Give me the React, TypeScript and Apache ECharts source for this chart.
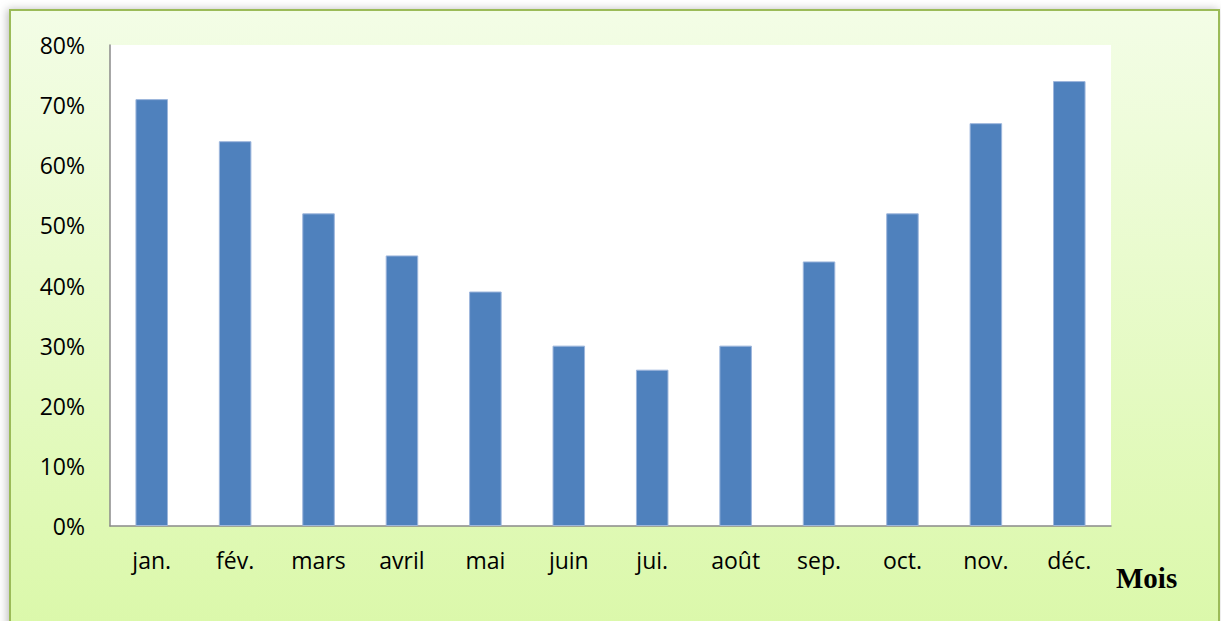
import React, { useEffect, useRef } from "react";
import * as echarts from "echarts";

const months = ["jan.", "fév.", "mars", "avril", "mai", "juin", "jui.", "août", "sep.", "oct.", "nov.", "déc."];
const values = [71, 64, 52, 45, 39, 30, 26, 30, 44, 52, 67, 74];
const axisTitle = "Mois";

export default function App() {
  const ref = useRef<HTMLDivElement>(null);
  useEffect(() => {
    document.body.style.margin = "0";
    const chart = echarts.init(ref.current!, null, { renderer: "svg" });
    chart.setOption({
      animation: false,
      backgroundColor: "#ffffff",
      graphic: [
        {
          type: "rect",
          z: -10,
          silent: true,
          shape: { x: 10, y: 10, width: 1209, height: 640 },
          style: {
            fill: {
              type: "linear", x: 0, y: 0, x2: 0, y2: 1,
              colorStops: [
                { offset: 0, color: "#f3fde6" },
                { offset: 1, color: "#daf8a8" },
              ],
            },
            stroke: "#9bbb59",
            lineWidth: 2,
            shadowBlur: 8,
            shadowColor: "rgba(0,0,0,0.25)",
            shadowOffsetX: -2,
            shadowOffsetY: 0,
          },
        },
        {
          type: "rect",
          z: -5,
          silent: true,
          shape: { x: 110, y: 45, width: 1001, height: 481 },
          style: { fill: "#ffffff" },
        },
        {
          type: "text",
          x: 1116,
          y: 578,
          style: {
            text: axisTitle,
            font: "bold 29px 'Liberation Serif'",
            fill: "#000000",
            verticalAlign: "middle",
            align: "left",
          },
        },
      ],
      grid: { left: 110, right: 110, top: 45, bottom: 95, containLabel: false },
      xAxis: {
        type: "category",
        data: months,
        axisLine: { show: true, lineStyle: { color: "#8a8a8a", width: 1.5 } },
        axisTick: { show: false },
        axisLabel: {
          color: "#000000",
          fontFamily: "Open Sans",
          fontSize: 23,
          margin: 22,
        },
      },
      yAxis: {
        type: "value",
        min: 0,
        max: 80,
        interval: 10,
        axisLine: { show: true, lineStyle: { color: "#8a8a8a", width: 1.5 } },
        axisTick: { show: false },
        splitLine: { show: false },
        axisLabel: {
          color: "#000000",
          fontFamily: "Open Sans",
          fontSize: 23,
          margin: 25,
          formatter: "{value}%",
        },
      },
      series: [
        {
          type: "bar",
          data: values,
          barWidth: "39%",
          itemStyle: { color: "#4f81bd", borderColor: "#9db6dc", borderWidth: 1 },
        },
      ],
    });
    return () => chart.dispose();
  }, []);
  return <div ref={ref} style={{ width: 1221, height: 621 }} />;
}
